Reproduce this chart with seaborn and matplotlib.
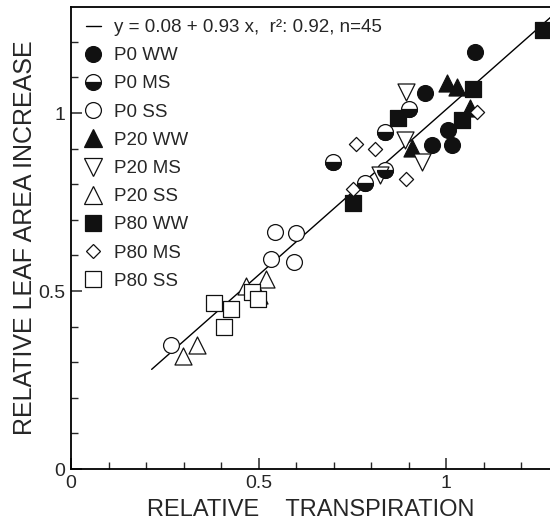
import numpy as np
import pandas as pd
import matplotlib
matplotlib.use("Agg")
import matplotlib.pyplot as plt
from matplotlib.lines import Line2D
from matplotlib.markers import MarkerStyle
from matplotlib.ticker import MultipleLocator, FuncFormatter
import seaborn as sns

# Relative transpiration (x) and relative leaf area increase (y) per treatment
p0_ww_x = [1.077, 0.944, 1.005, 0.963, 1.016]
p0_ww_y = [1.171, 1.056, 0.952, 0.910, 0.910]
p0_ms_x = [0.901, 0.837, 0.699, 0.837, 0.784]
p0_ms_y = [1.011, 0.947, 0.862, 0.840, 0.803]
p0_ss_x = [0.544, 0.600, 0.533, 0.595, 0.267]
p0_ss_y = [0.666, 0.663, 0.590, 0.581, 0.348]
p20_ww_x = [1.003, 1.029, 1.064, 0.909]
p20_ww_y = [1.084, 1.073, 1.014, 0.902]
p20_ms_x = [0.893, 0.891, 0.936, 0.824]
p20_ms_y = [1.059, 0.924, 0.862, 0.826]
p20_ss_x = [0.520, 0.467, 0.501, 0.336, 0.299]
p20_ss_y = [0.534, 0.514, 0.489, 0.348, 0.317]
p80_ww_x = [1.259, 1.072, 1.043, 0.872, 0.752]
p80_ww_y = [1.233, 1.067, 0.980, 0.986, 0.747]
p80_ms_x = [1.083, 0.760, 0.811, 0.893, 0.752]
p80_ms_y = [1.003, 0.913, 0.899, 0.815, 0.787]
p80_ss_x = [0.381, 0.427, 0.483, 0.499, 0.408]
p80_ss_y = [0.466, 0.449, 0.497, 0.478, 0.399]

# Regression summary
intercept = 0.08
slope = 0.93
r_squared = 0.92
n_obs = 45
fit_x = [0.215, 1.30]

sns.set_style("ticks")
plt.rcParams["font.family"] = ["Liberation Sans", "DejaVu Sans"]

W, H = 550, 529
fig = plt.figure(figsize=(W / 100, H / 100), dpi=100)
ax = fig.add_axes([71 / W, 60 / H, 479 / W, 462 / H])

# regression line
fit_df = pd.DataFrame({"x": fit_x,
                       "y": [intercept + slope * v for v in fit_x]})
sns.lineplot(data=fit_df, x="x", y="y", color="black", linewidth=1.0,
             ax=ax, legend=False, zorder=2)

BLACK = "#111111"
EDGE_LW = 0.9

# (label, xs, ys, marker, size s, face colour, half-filled?)
groups = [
    ("P0 WW", p0_ww_x, p0_ww_y, "o", 130, BLACK, False),
    ("P0 MS", p0_ms_x, p0_ms_y, "o", 130, "white", True),
    ("P0 SS", p0_ss_x, p0_ss_y, "o", 130, "white", False),
    ("P20 WW", p20_ww_x, p20_ww_y, "^", 150, BLACK, False),
    ("P20 MS", p20_ms_x, p20_ms_y, "v", 150, "white", False),
    ("P20 SS", p20_ss_x, p20_ss_y, "^", 150, "white", False),
    ("P80 WW", p80_ww_x, p80_ww_y, "s", 120, BLACK, False),
    ("P80 MS", p80_ms_x, p80_ms_y, "D", 52, "white", False),
    ("P80 SS", p80_ss_x, p80_ss_y, "s", 120, "white", False),
]

for label, xs, ys, mk, s, face, half in groups:
    df = pd.DataFrame({"x": xs, "y": ys})
    sns.scatterplot(data=df, x="x", y="y", marker=mk, s=s, color=face,
                    edgecolor=BLACK, linewidth=EDGE_LW, ax=ax,
                    legend=False, zorder=3)
    if half:
        sns.scatterplot(data=df, x="x", y="y",
                        marker=MarkerStyle("o", fillstyle="bottom"), s=s,
                        color=BLACK, edgecolor=BLACK, linewidth=EDGE_LW,
                        ax=ax, legend=False, zorder=4)

ax.set_xlim(0, 1.277)
ax.set_ylim(0, 1.298)

ax.xaxis.set_major_locator(MultipleLocator(0.5))
ax.xaxis.set_minor_locator(MultipleLocator(0.1))
ax.yaxis.set_major_locator(MultipleLocator(0.5))
ax.yaxis.set_minor_locator(MultipleLocator(0.1))
fmt = FuncFormatter(lambda v, _: f"{v:g}")
ax.xaxis.set_major_formatter(fmt)
ax.yaxis.set_major_formatter(fmt)
ax.tick_params(which="major", direction="in", length=8, width=1.1,
               labelsize=14, pad=4, top=False, right=False)
ax.tick_params(which="minor", direction="in", length=5, width=1.0,
               top=False, right=False)

ax.spines["right"].set_visible(False)
for sp in ("left", "bottom", "top"):
    ax.spines[sp].set_linewidth(1.3)
    ax.spines[sp].set_color("black")

ax.set_xlabel("RELATIVE    TRANSPIRATION", fontsize=17, labelpad=5)
ax.set_ylabel("RELATIVE LEAF AREA INCREASE", fontsize=18, labelpad=1)

# legend
handles = [Line2D([], [], color="black", lw=1.0)]
labels = [f"y = {intercept:.2f} + {slope:.2f} x,  r\u00b2: {r_squared:.2f}, n={n_obs}"]
for label, xs, ys, mk, s, face, half in groups:
    ms = np.sqrt(s)
    if half:
        h = Line2D([], [], ls="none", marker="o", ms=ms, mfc=BLACK,
                   mfcalt="white", fillstyle="bottom", mec=BLACK,
                   mew=EDGE_LW)
    else:
        h = Line2D([], [], ls="none", marker=mk, ms=ms, mfc=face,
                   mec=BLACK, mew=EDGE_LW)
    handles.append(h)
    labels.append(label)

ax.legend(handles, labels, loc="upper left",
          bbox_to_anchor=((85.5 - 71) / 479, 1 - 12 / 462),
          frameon=False, fontsize=13.5, handlelength=0.8,
          handletextpad=0.72, labelspacing=0.59, borderpad=0,
          borderaxespad=0)

fig.savefig("out.png", dpi=100)
